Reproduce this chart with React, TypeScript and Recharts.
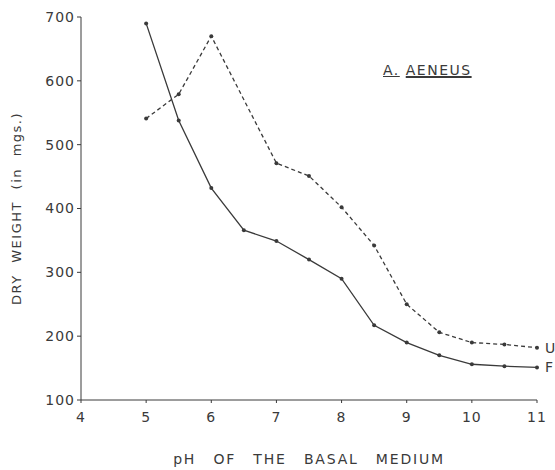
import { LineChart, Line, XAxis, YAxis, Label } from 'recharts'

const phValues = [5, 5.5, 6, 6.5, 7, 7.5, 8, 8.5, 9, 9.5, 10, 10.5, 11]
const seriesF = [690, 538, 432, 366, 349, 320, 290, 217, 190, 170, 156, 153, 151]
const seriesU = [541, 579, 670, null, 471, 451, 402, 342, 250, 206, 190, 187, 182]
const xTicks = [4, 5, 6, 7, 8, 9, 10, 11]
const yTicks = [100, 200, 300, 400, 500, 600, 700]

const data = phValues.map((ph, i) => ({ ph, F: seriesF[i], U: seriesU[i] }))

const ink = '#3a3a3a'
const font = '"DejaVu Sans", sans-serif'

const endLabel = (name: string) => (props: any) => {
  if (props.index !== phValues.length - 1) return null
  return (
    <text x={props.x + 8} y={props.y + 5} fontSize={14} fill={ink} fontFamily={font}>
      {name}
    </text>
  )
}

export default function App() {
  return (
    <div style={{ position: 'absolute', left: 0, top: 0, width: 555, height: 470, background: 'white' }}>
      <LineChart width={555} height={470} data={data} margin={{ top: 17, right: 18, left: 0, bottom: 40 }}>
        <XAxis
          dataKey="ph" type="number" domain={[4, 11]} ticks={xTicks}
          height={30} stroke={ink} tickSize={3} tickMargin={9}
          tick={{ fontSize: 14, fill: ink, fontFamily: font, letterSpacing: 1 }}
        >
          <Label
            value="pH OF THE BASAL MEDIUM" position="bottom" offset={24}
            style={{ fontSize: 14, fill: ink, fontFamily: font, letterSpacing: 1.8, wordSpacing: 11 }}
          />
        </XAxis>
        <YAxis
          type="number" domain={[100, 700]} ticks={yTicks} width={81}
          stroke={ink} tickSize={4}
          tick={{ fontSize: 14, fill: ink, fontFamily: font, letterSpacing: 1 }}
        >
          <Label
            value="DRY WEIGHT (in mgs.)" angle={-90} position="insideLeft" offset={16}
            style={{ fontSize: 13, fill: ink, fontFamily: font, letterSpacing: 1.5, wordSpacing: 6, textAnchor: 'middle' }}
          />
        </YAxis>
        <Line
          dataKey="U" stroke={ink} strokeWidth={1.3} strokeDasharray="4 3" connectNulls
          dot={{ r: 2, fill: ink, strokeWidth: 0 }} isAnimationActive={false}
          label={endLabel('U')}
        />
        <Line
          dataKey="F" stroke={ink} strokeWidth={1.3}
          dot={{ r: 2, fill: ink, strokeWidth: 0 }} isAnimationActive={false}
          label={endLabel('F')}
        />
      </LineChart>
      <div
        style={{
          position: 'absolute', left: 383, top: 62, fontFamily: font, fontSize: 14,
          color: ink, letterSpacing: 1.5, whiteSpace: 'nowrap',
        }}
      >
        <span style={{ textDecoration: 'underline' }}>A.</span>{' '}
        <span style={{ textDecoration: 'underline', textDecorationThickness: 2 }}>AENEUS</span>
      </div>
    </div>
  )
}
